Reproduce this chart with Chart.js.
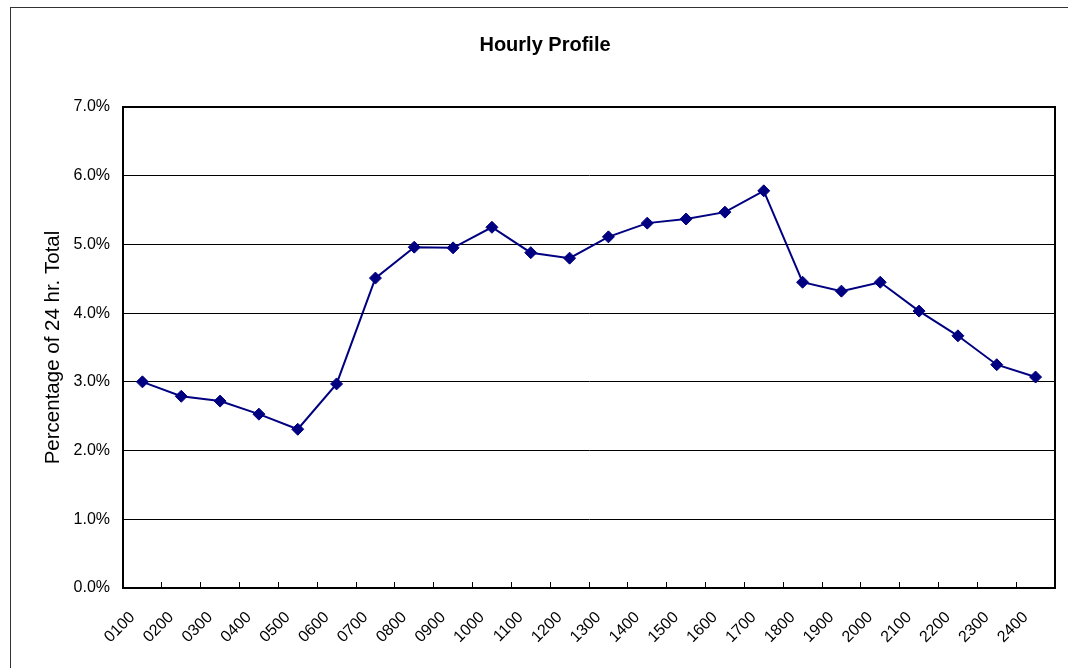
<!DOCTYPE html>
<html>
<head>
<meta charset="utf-8">
<script src="https://cdn.jsdelivr.net/npm/chart.js@4/dist/chart.umd.min.js"></script>
<style>
  html, body { margin: 0; padding: 0; overflow: hidden; background: #ffffff; width: 1068px; height: 668px; }
  #frame { position: absolute; left: 10px; top: 7px; width: 1100px; height: 700px; border-left: 1px solid #333; border-top: 1px solid #333; box-sizing: border-box; }
  #wrap { position: absolute; left: 10px; top: 7px; width: 1070px; height: 661px; }
</style>
</head>
<body>
<div id="frame"></div>
<div id="wrap"><canvas id="c" width="1070" height="661"></canvas></div>
<script>
const chartTitle = "Hourly Profile";
const yAxisTitle = "Percentage of 24 hr. Total";
const hours = ["0100","0200","0300","0400","0500","0600","0700","0800","0900","1000","1100","1200",
               "1300","1400","1500","1600","1700","1800","1900","2000","2100","2200","2300","2400"];
const percentages = [3.00, 2.79, 2.72, 2.53, 2.31, 2.97, 4.51, 4.96, 4.95, 5.25, 4.88, 4.80,
                     5.11, 5.31, 5.37, 5.47, 5.78, 4.45, 4.32, 4.45, 4.03, 3.67, 3.25, 3.07];
const yMin = 0, yMax = 7, yStep = 1;

const FONT = "'Liberation Sans', Arial, sans-serif";
const NAVY = "#000080";

const plotBorder = {
  id: "plotBorder",
  afterDraw(chart) {
    const a = chart.chartArea, ctx = chart.ctx;
    ctx.save();
    ctx.strokeStyle = "#000";
    ctx.lineWidth = 2;
    ctx.strokeRect(a.left, a.top, a.right - a.left, a.bottom - a.top);
    ctx.restore();
  }
};

new Chart(document.getElementById("c"), {
  type: "line",
  data: {
    labels: hours,
    datasets: [{
      data: percentages,
      borderColor: NAVY,
      backgroundColor: NAVY,
      borderWidth: 2,
      pointStyle: "rectRot",
      pointRadius: 6,
      pointBorderWidth: 1,
      pointBackgroundColor: NAVY,
      pointBorderColor: NAVY,
      tension: 0,
      fill: false
    }]
  },
  options: {
    responsive: false,
    animation: false,
    devicePixelRatio: 1,
    layout: { padding: { left: 25, right: 25, top: 0, bottom: 0 } },
    plugins: {
      legend: { display: false },
      tooltip: { enabled: false },
      title: {
        display: true,
        text: chartTitle,
        color: "#000",
        font: { family: FONT, size: 20, weight: "bold" },
        padding: { top: 26.5, bottom: 49.5 }
      }
    },
    scales: {
      x: {
        type: "category",
        offset: true,
        grid: { display: true, offset: true, drawOnChartArea: false, drawTicks: true, tickLength: -6, color: "#000", lineWidth: 1 },
        border: { display: true, color: "#000", width: 2 },
        ticks: {
          color: "#000",
          font: { family: FONT, size: 16 },
          minRotation: 45, maxRotation: 45,
          autoSkip: false,
          padding: 26,
          labelOffset: -10
        },
        afterFit(scale) { scale.height = 80; }
      },
      y: {
        min: yMin, max: yMax,
        grid: { color: "#000", lineWidth: 1, drawTicks: false },
        border: { display: true, color: "#000", width: 2 },
        ticks: {
          stepSize: yStep,
          color: "#000",
          font: { family: FONT, size: 16 },
          padding: 13,
          callback: v => v.toFixed(1) + "%"
        },
        title: {
          display: true,
          text: yAxisTitle,
          color: "#000",
          font: { family: FONT, size: 20.5 },
          padding: { top: 6, bottom: 0 }
        },
        afterFit(scale) { scale.width = 88; }
      }
    }
  },
  plugins: [plotBorder]
});
</script>
</body>
</html>
